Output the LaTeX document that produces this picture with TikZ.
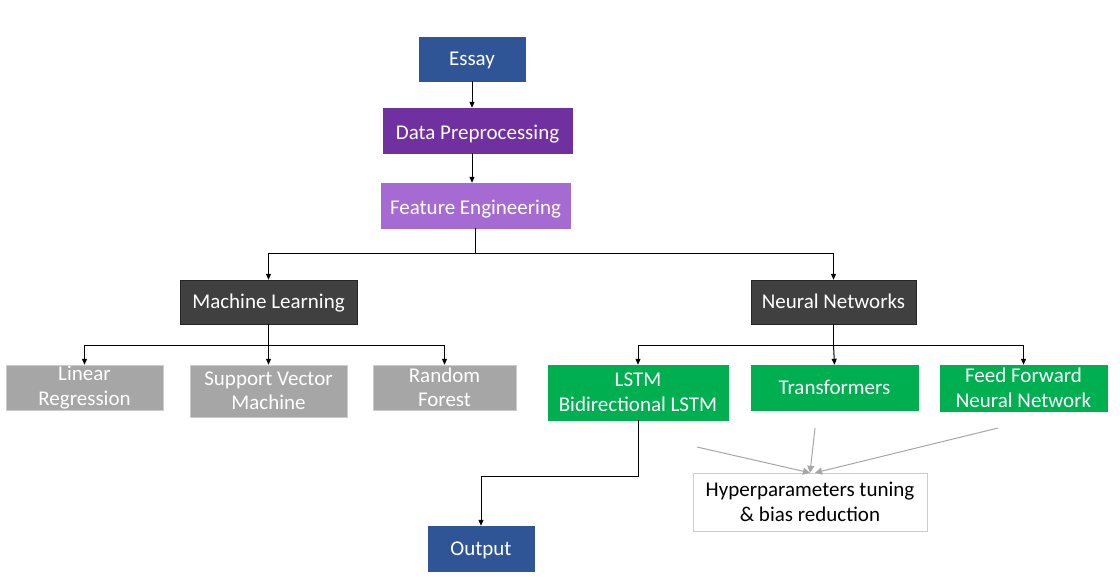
\documentclass[tikz,border=0pt]{standalone}
\usepackage{fontspec}
\setmainfont{Carlito}
\usetikzlibrary{arrows.meta}
\definecolor{cblue}{HTML}{2F5597}
\definecolor{cpurple}{HTML}{7030A0}
\definecolor{clpurple}{HTML}{A66BD3}
\definecolor{cdark}{HTML}{404040}
\definecolor{cgray}{HTML}{A6A6A6}
\definecolor{cgreen}{HTML}{00B050}
\tikzset{
  box/.style={draw=#1, fill=#1, text=white, inner sep=0pt, align=center,
    font=\fontsize{21}{24.5}\selectfont},
  one/.style={text height=15pt, text depth=2pt},
  onelow/.style={text height=17pt, text depth=0pt},
  arr/.style={draw=black, line width=1pt, -{Triangle[length=6pt,width=5pt]}},
  ln/.style={draw=black, line width=1pt},
  garr/.style={draw=gray!70, line width=1pt, -{Triangle[length=7pt,width=7pt]}},
}
\begin{document}
\begin{tikzpicture}[x=1pt,y=-1pt]
\useasboundingbox (0,0) rectangle (1120,587);
\node[box=cblue, one, minimum width=106, minimum height=44] (essay) at (472,59) {Essay};
\node[box=cpurple, onelow, minimum width=189, minimum height=45] (prep) at (477.5,130.5) {Data Preprocessing};
\node[box=clpurple, onelow, minimum width=189, minimum height=45] (feat) at (475.5,205.5) {Feature Engineering};
\node[box=cdark, one, draw=black!85, minimum width=177, minimum height=44] (ml) at (268.5,302) {Machine Learning};
\node[box=cdark, one, draw=black!85, minimum width=165, minimum height=44] (nn) at (833.5,302) {Neural Networks};
\node[box=cgray, draw=gray!40, minimum width=157, minimum height=45] (lr) at (84.5,387.5) {Linear\\Regression};
\node[box=cgray, draw=gray!40, minimum width=157, minimum height=52] (svm) at (268.5,391) {Support Vector\\Machine};
\node[box=cgray, draw=gray!40, minimum width=143, minimum height=45] (rf) at (444.5,387.5) {Random\\Forest};
\node[box=cgreen, minimum width=180, minimum height=55] (lstm) at (638,392.5) {LSTM\\Bidirectional LSTM};
\node[box=cgreen, one, minimum width=167, minimum height=45] (tr) at (834.5,387.5) {Transformers};
\node[box=cgreen, minimum width=167, minimum height=46] (ffnn) at (1023.5,388) {Feed Forward\\Neural Network};
\node[box=white, draw=gray!40, text=black, minimum width=234, minimum height=58] (hyp) at (810,502) {Hyperparameters tuning\\\& bias reduction};
\node[box=cblue, one, minimum width=106, minimum height=45] (out) at (481,548.5) {Output};

\draw[arr] (essay) -- (essay |- prep.north);
\draw[arr] (essay |- prep.south) -- (essay |- feat.north);

\coordinate (fsplit) at (475.5,253);
\draw[ln] (feat.south) -- (fsplit);
\draw[arr] (fsplit) -| (ml.north);
\draw[arr] (fsplit) -| (nn.north);

\coordinate (msplit) at (268.5,345);
\draw[ln] (ml.south) -- (msplit);
\draw[arr] (msplit) -| (lr.north);
\draw[arr] (msplit) -- (svm.north);
\draw[arr] (msplit) -| (rf.north);

\coordinate (nsplit) at (833.5,345);
\draw[ln] (nn.south) -- (nsplit);
\draw[arr] (nsplit) -| (lstm.north);
\draw[arr] (nsplit) -- (tr.north);
\draw[arr] (nsplit) -| (ffnn.north);

\coordinate (lbend) at (638,476);
\draw[arr] (lstm.south) -- (lbend) -| (out.north);

\coordinate (g1) at (697,447);
\coordinate (g2) at (815,428);
\coordinate (g3) at (998,428);
\draw[garr] (g1) -- (hyp.north);
\draw[garr] (g2) -- (hyp.north);
\draw[garr] (g3) -- ([xshift=5pt]hyp.north);
\end{tikzpicture}
\end{document}
